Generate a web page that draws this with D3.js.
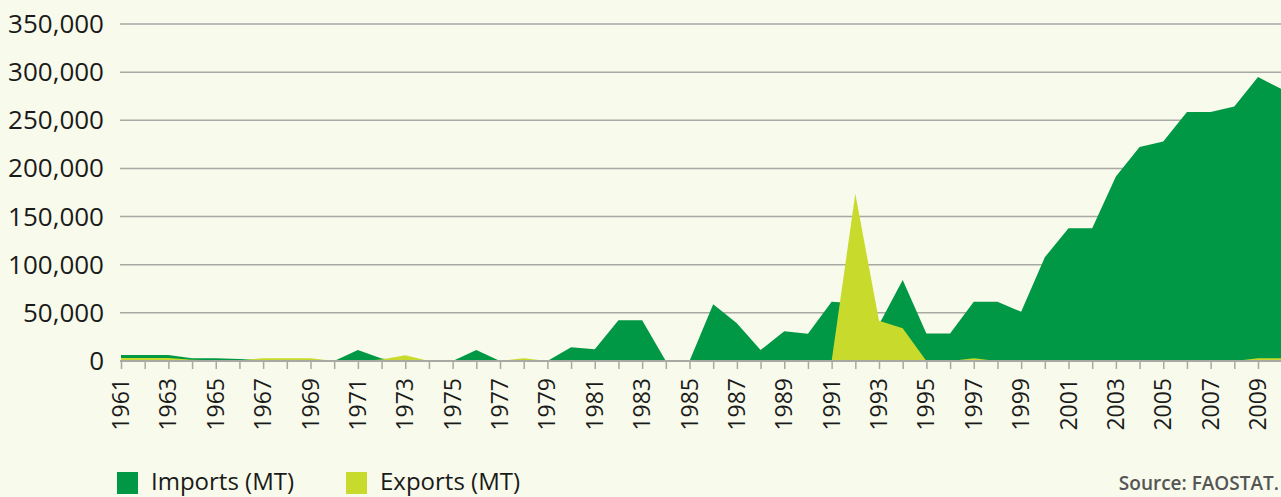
<!DOCTYPE html>
<html>
<head>
<meta charset="utf-8">
<script src="https://cdn.jsdelivr.net/npm/d3@7"></script>
<style>
  html, body { margin: 0; padding: 0; background: #f8faeb; }
  svg { display: block; }
  .ylab { font-family: "Open Sans", sans-serif; font-size: 26px; fill: #1a1a1a; }
  .xlab { font-family: "Open Sans", sans-serif; font-size: 23px; fill: #1a1a1a; }
  .leg { font-family: "Open Sans", sans-serif; font-size: 24px; fill: #1a1a1a; }
  .src { font-family: "Open Sans", sans-serif; font-size: 19px; font-weight: 600; fill: #555; }
</style>
</head>
<body>
<div class="chart-container"></div>
<script>
var years = d3.range(1961, 2011);

var imports = [
    6200, 6200, 6200, 2800, 2800, 2000, 1000, 1000, 500, 0,
    11400, 2500, 0, 0, 0, 11400, 0, 500, 0, 14200,
    12100, 42300, 42300, 0, 0, 59000, 39200, 11400, 30900, 28400,
    61600, 60000, 38000, 84200, 28600, 28600, 61600, 61600, 51200, 107800,
    137900, 137900, 191600, 222200, 228000, 258500, 258500, 264300, 294900, 282400
];

var exports = [
    3100, 3100, 3100, 1200, 800, 800, 2800, 2800, 2800, 0,
    0, 1500, 5900, 0, 0, 0, 0, 2800, 0, 0,
    0, 0, 0, 0, 0, 0, 0, 0, 0, 0,
    0, 173600, 41900, 34000, 0, 0, 2800, 0, 0, 0,
    0, 0, 0, 0, 0, 0, 0, 0, 2800, 2800
];

var yTicks = [0, 50000, 100000, 150000, 200000, 250000, 300000, 350000];
var seriesNames = ["Imports (MT)", "Exports (MT)"];
var seriesColors = ["#009845", "#c8da2b"];

var width = 1281, height = 497;
var x0 = 121, x1 = 1281.7, yBase = 361, yTop = 24;

var x = d3.scaleLinear().domain([1961, 2010]).range([x0, x1]);
var y = d3.scaleLinear().domain([0, 350000]).range([yBase, yTop]);

var svg = d3.select(".chart-container")
    .append("svg")
    .attr("width", width)
    .attr("height", height);

// grid lines
svg.append("g")
    .selectAll("line")
    .data(yTicks.slice(1))
    .enter().append("line")
    .attr("x1", 120).attr("x2", width)
    .attr("y1", function (d) { return y(d); })
    .attr("y2", function (d) { return y(d); })
    .attr("stroke", "#a9a9a4")
    .attr("stroke-width", 1.5);

// y labels
svg.append("g")
    .selectAll("text")
    .data(yTicks)
    .enter().append("text")
    .attr("class", "ylab")
    .attr("x", 104)
    .attr("y", function (d) { return y(d) + 9; })
    .attr("text-anchor", "end")
    .text(function (d) { return d3.format(",")(d); });

var area = function (vals) {
    return d3.area()
        .x(function (d, i) { return x(years[i]); })
        .y0(yBase)
        .y1(function (d) { return y(d); })(vals);
};

svg.append("path").attr("d", area(imports)).attr("fill", seriesColors[0]);
svg.append("path").attr("d", area(exports)).attr("fill", seriesColors[1]);

// x axis
var xAxis = d3.axisBottom(x)
    .tickValues(years)
    .tickSize(8)
    .tickFormat("");

var gx = svg.append("g")
    .attr("transform", "translate(0," + yBase + ")")
    .call(xAxis);
gx.select(".domain").attr("stroke", "#a9a9a4").attr("stroke-width", 2)
    .attr("d", "M120,0H" + width);
gx.selectAll(".tick line").attr("stroke", "#a9a9a4").attr("stroke-width", 1.5);

svg.append("g")
    .selectAll("text")
    .data(years.filter(function (d) { return d % 2 === 1; }))
    .enter().append("text")
    .attr("class", "xlab")
    .attr("text-anchor", "end")
    .attr("transform", function (d) {
        return "translate(" + (x(d) + 8) + ",378) rotate(-90)";
    })
    .text(function (d) { return d; });

// legend
var legX = [117, 346];
var leg = svg.append("g")
    .selectAll("g")
    .data(seriesNames)
    .enter().append("g")
    .attr("transform", function (d, i) { return "translate(" + legX[i] + ",0)"; });
leg.append("rect")
    .attr("x", 0).attr("y", 472)
    .attr("width", 21).attr("height", 22)
    .attr("fill", function (d, i) { return seriesColors[i]; });
leg.append("text")
    .attr("class", "leg")
    .attr("x", 34).attr("y", 490)
    .text(function (d) { return d; });

svg.append("text")
    .attr("class", "src")
    .attr("x", 1279).attr("y", 490)
    .attr("text-anchor", "end")
    .text("Source: FAOSTAT.");
</script>
</body>
</html>
